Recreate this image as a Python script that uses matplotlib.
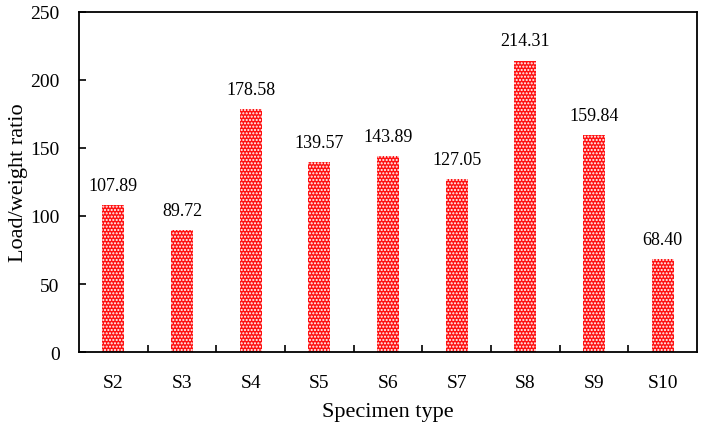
import matplotlib
matplotlib.use("Agg")
import matplotlib.pyplot as plt
import numpy as np

categories = ["S2", "S3", "S4", "S5", "S6", "S7", "S8", "S9", "S10"]
values = [107.89, 89.72, 178.58, 139.57, 143.89, 127.05, 214.31, 159.84, 68.40]
labels = ["107.89", "89.72", "178.58", "139.57", "143.89", "127.05", "214.31", "159.84", "68.40"]

plt.rcParams['font.family'] = ['Liberation Serif', 'DejaVu Serif']
plt.rcParams['hatch.linewidth'] = 1.0

fig = plt.figure(figsize=(7.02, 4.31), dpi=100)
ax = fig.add_axes([79/702, 1-353/431, (697-79)/702, (353-13)/431])

x = np.arange(len(categories))
bars = ax.bar(x, values, width=0.32, color='#ff1010', edgecolor='white', linewidth=0, hatch='.....')
for b, lab in zip(bars, labels):
    ax.annotate(lab, (b.get_x() + b.get_width()/2, b.get_height()), xytext=(0, 8),
                textcoords='offset points', ha='center', va='bottom', fontsize=13)

ax.set_xlim(-0.5, len(categories) - 0.5)
ax.set_ylim(0, 250)
ax.set_yticks([0, 50, 100, 150, 200, 250])
ax.set_xticks(x)
ax.set_xticklabels(categories, fontsize=14)
ax.set_xticks(np.arange(len(categories) - 1) + 0.5, minor=True)
ax.tick_params(axis='x', which='major', length=0, pad=16)
ax.tick_params(axis='x', which='minor', direction='in', length=5, width=1.2)
ax.tick_params(axis='y', direction='in', length=5, width=1.2, labelsize=14, pad=14)
for s in ax.spines.values():
    s.set_linewidth(1.3)
ax.set_xlabel("Specimen type", fontsize=16, va='center')
ax.set_ylabel("Load/weight ratio", fontsize=16, va='center')
ax.xaxis.set_label_coords(0.5, -(412 - 353) / 340)
ax.yaxis.set_label_coords(-(79 - 18) / 618, 0.5)

fig.savefig("out.png", dpi=100)
